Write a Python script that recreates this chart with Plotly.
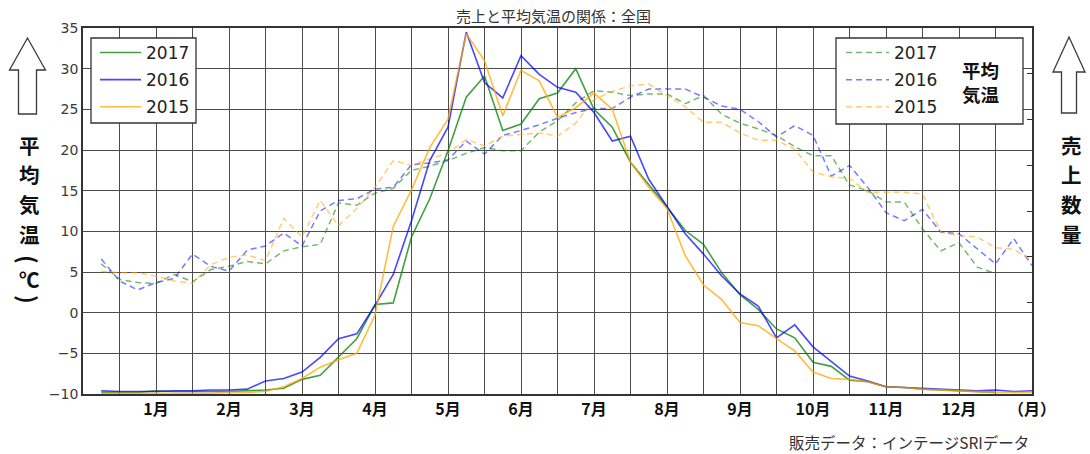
import plotly.graph_objects as go

# ---------------- data ----------------
weeks = list(range(1, 53))
weeks_2017 = list(range(1, 51))

# sales (solid lines, right axis, drawn in left-axis scale units)
sales_2017 = [-9.8, -9.8, -9.8, -9.6, -9.7, -9.7, -9.7, -9.7, -9.6, -9.5,
              -9.3, -8.2, -7.7, -5.5, -3.2, 1.0, 1.2, 9.3, 14.0, 19.9,
              26.5, 29.1, 22.4, 23.2, 26.3, 27.0, 30.0, 25.0, 22.8, 18.5,
              15.8, 13.0, 10.1, 8.4, 4.9, 2.2, 0.4, -2.0, -3.1, -6.1,
              -6.6, -8.3, -8.5, -9.1, -9.2, -9.4, -9.5, -9.6, -9.7, -9.8]
sales_2016 = [-9.6, -9.7, -9.7, -9.7, -9.6, -9.6, -9.5, -9.5, -9.4, -8.4,
              -8.1, -7.3, -5.5, -3.2, -2.6, 0.9, 4.7, 11.3, 18.7, 22.8,
              34.5, 28.3, 26.4, 31.6, 29.3, 27.7, 27.1, 24.6, 21.1, 21.7,
              16.4, 13.0, 9.7, 7.2, 4.5, 2.3, 0.8, -3.1, -1.5, -4.2,
              -6.0, -7.8, -8.4, -9.1, -9.2, -9.3, -9.4, -9.5, -9.6, -9.5,
              -9.7, -9.6]
sales_2015 = [-9.9, -9.9, -9.9, -9.9, -9.9, -9.9, -9.9, -9.8, -9.8, -9.7,
              -9.1, -8.1, -6.7, -5.8, -5.0, -0.3, 10.6, 15.1, 20.3, 23.8,
              34.3, 31.0, 24.2, 29.8, 28.5, 24.0, 25.2, 27.0, 25.0, 18.5,
              15.4, 12.8, 7.0, 3.4, 1.6, -1.2, -1.6, -3.2, -4.7, -7.3,
              -8.1, -8.2, -8.5, -9.1, -9.2, -9.4, -9.5, -9.6, -9.7, -9.8,
              -9.8, -9.8]

# average temperature (dashed lines, left axis, deg C)
temp_2017 = [6.0, 4.1, 3.7, 3.6, 4.7, 3.8, 5.3, 5.7, 6.3, 6.0,
             7.6, 8.1, 8.4, 13.5, 13.2, 14.7, 15.3, 17.5, 18.0, 18.7,
             19.6, 20.3, 19.9, 19.9, 22.2, 23.6, 25.8, 27.3, 27.1, 26.7,
             26.9, 26.9, 25.7, 26.7, 24.4, 23.3, 22.6, 21.8, 20.4, 19.3,
             19.3, 15.7, 15.0, 13.6, 13.6, 10.3, 7.6, 8.6, 5.6, 4.8]
temp_2016 = [6.6, 3.9, 2.8, 3.7, 4.2, 7.2, 5.7, 5.1, 7.7, 8.2,
             9.8, 8.2, 12.5, 13.8, 14.0, 15.2, 15.4, 18.2, 18.4, 18.8,
             21.1, 19.5, 21.8, 22.4, 23.1, 23.9, 24.6, 25.1, 25.1, 26.5,
             27.5, 27.5, 27.5, 26.5, 25.4, 25.0, 23.5, 21.6, 23.0, 21.8,
             16.8, 18.1, 15.4, 12.3, 11.3, 12.7, 9.9, 9.7, 7.8, 6.0,
             9.1, 5.8]
temp_2015 = [5.1, 4.9, 4.9, 4.5, 3.9, 3.6, 5.9, 6.8, 7.1, 6.4,
             11.6, 9.3, 13.8, 10.7, 12.8, 15.4, 18.7, 18.1, 18.9, 19.6,
             21.3, 20.5, 21.7, 21.9, 22.1, 21.7, 23.3, 26.2, 27.2, 27.9,
             28.1, 26.7, 25.3, 23.4, 23.4, 22.1, 21.2, 21.2, 20.1, 17.3,
             16.7, 16.5, 14.8, 14.8, 14.8, 14.6, 9.9, 9.5, 9.3, 8.0,
             7.8, 6.4]

grid_weeks = list(range(0, 53, 2))
month_weeks = [4, 8, 12, 16, 20, 24, 28, 32, 36, 40, 44, 48, 52]
month_labels = ["1月", "2月", "3月", "4月", "5月", "6月", "7月", "8月",
                "9月", "10月", "11月", "12月", "（月）"]
year_labels = ["2017", "2016", "2015"]

# ---------------- layout helpers ----------------
W, H = 1090, 454
L, R, T, B = 83, 1032, 28, 394


def px(x):
    return (x - L) / (R - L)


def py(y):
    return (B - y) / (B - T)


JP = "Noto Sans CJK JP"
NUM = "DejaVu Sans, Noto Sans CJK JP"

solid_colors = ["rgba(0,128,0,0.75)", "rgba(0,0,255,0.72)", "rgba(255,165,0,0.75)"]
dash_colors = ["rgba(0,128,0,0.55)", "rgba(0,0,255,0.52)", "rgba(255,165,0,0.55)"]

fig = go.Figure()

sales_x = [weeks_2017, weeks, weeks]
sales_y = [sales_2017, sales_2016, sales_2015]
temp_y = [temp_2017, temp_2016, temp_2015]

for i in range(3):
    fig.add_trace(go.Scatter(
        x=sales_x[i], y=sales_y[i], mode="lines", name=year_labels[i],
        line=dict(color=solid_colors[i], width=1.6),
        yaxis="y2", legend="legend", legendgroup="s" + year_labels[i],
        hoverinfo="skip"))

for i in range(3):
    fig.add_trace(go.Scatter(
        x=sales_x[i], y=temp_y[i], mode="lines", name=year_labels[i],
        line=dict(color=dash_colors[i], width=1.5, dash="6px,4px"),
        yaxis="y", legend="legend2", legendgroup="t" + year_labels[i],
        hoverinfo="skip"))

grid_text = []
for w in grid_weeks:
    grid_text.append(month_labels[month_weeks.index(w)] if w in month_weeks else "")

frame = "#333333"
gridc = "#4d4d4d"

fig.update_layout(
    width=W, height=H,
    margin=dict(l=L, r=W - R, t=T, b=H - B, pad=0),
    paper_bgcolor="white", plot_bgcolor="white",
    showlegend=True,
    xaxis=dict(range=[0, 52], tickmode="array", tickvals=grid_weeks, ticktext=grid_text,
               showgrid=True, gridcolor=gridc, gridwidth=1.1,
               showline=True, linecolor=frame, linewidth=1.6, mirror=True,
               ticks="", zeroline=False,
               tickfont=dict(family=JP, size=16, color="#111111", weight="bold")),
    yaxis=dict(range=[-10, 35], dtick=5, tick0=-10,
               showgrid=True, gridcolor=gridc, gridwidth=1.1,
               showline=True, linecolor=frame, linewidth=1.6, mirror=True,
               ticks="", zeroline=False,
               tickfont=dict(family=NUM, size=14, color="#3a3a3a")),
    yaxis2=dict(range=[-10, 35], overlaying="y", side="right",
                tickmode="array", tickvals=[-10 + 45 * k / 8 for k in range(9)],
                ticks="inside", ticklen=5, tickcolor=frame, tickwidth=1.2,
                showticklabels=False, showgrid=False, zeroline=False, showline=False),
    legend=dict(x=px(95), y=py(35), xanchor="left", yanchor="top",
                bgcolor="rgba(0,0,0,0)", borderwidth=0, tracegroupgap=2, itemwidth=41,
                font=dict(family=NUM, size=17, color="#222222")),
    legend2=dict(x=px(841), y=py(35), xanchor="left", yanchor="top",
                 bgcolor="rgba(0,0,0,0)", borderwidth=0, tracegroupgap=2, itemwidth=43,
                 font=dict(family=NUM, size=17, color="#222222")),
)

shapes = []
# legend boxes
for (x0, y0, x1, y1) in [(91, 38, 196, 123), (836, 38, 1023, 124)]:
    shapes.append(dict(type="rect", xref="paper", yref="paper",
                       x0=px(x0), x1=px(x1), y0=py(y1), y1=py(y0),
                       line=dict(color=frame, width=1.3), fillcolor="white", layer="above"))


def arrow(cx, tip, base, bottom, head_half, shaft_half):
    pts = [(cx, tip), (cx + head_half, base), (cx + shaft_half, base), (cx + shaft_half, bottom),
           (cx - shaft_half, bottom), (cx - shaft_half, base), (cx - head_half, base)]
    d = "M " + " L ".join("%.5f,%.5f" % (px(a), py(b)) for a, b in pts) + " Z"
    return dict(type="path", xref="paper", yref="paper", path=d,
                line=dict(color="#3a3a3a", width=1.3), fillcolor="white")


shapes.append(arrow(27.5, 38, 70, 114, 18, 9))
shapes.append(arrow(1069, 37, 72, 113, 16, 7.5))
fig.update_layout(shapes=shapes)


def note(text, x, y, size, color="#111111", xanchor="center", angle=0, family=JP):
    return dict(text=text, x=px(x), y=py(y), xref="paper", yref="paper",
                showarrow=False, xanchor=xanchor, yanchor="middle", textangle=angle,
                font=dict(family=family, size=size, color=color))


ann = []
ann.append(note("売上と平均気温の関係：全国", 553, 16, 15, "#333333"))
ann.append(note("販売データ：インテージSRIデータ", 1031, 442, 15.5, "#333333", xanchor="right"))
ann.append(note("<b>平均<br>気温</b>", 980, 81.5, 18.5))

char_rows = [145, 174.5, 204, 233.5]
# left vertical label
for ch, yy in zip(["平", "均", "気", "温"], char_rows):
    ann.append(note("<b>" + ch + "</b>", 29, yy, 20.5))
ann.append(note("<b>(</b>", 29, 259, 23, angle=90))
ann.append(note("<b>℃</b>", 29, 279, 20.5))
ann.append(note("<b>)</b>", 29, 299, 23, angle=90))
# right vertical label
for ch, yy in zip(["売", "上", "数", "量"], char_rows):
    ann.append(note("<b>" + ch + "</b>", 1071, yy, 20.5))
fig.update_layout(annotations=ann)

fig.write_html("out.html", config={"displayModeBar": False})

# remove the default page margin so the figure sits at the window's top-left corner
with open("out.html", "r", encoding="utf-8") as f:
    page = f.read()
page = page.replace("<body>", '<body style="margin:0;padding:0;">', 1)
with open("out.html", "w", encoding="utf-8") as f:
    f.write(page)
